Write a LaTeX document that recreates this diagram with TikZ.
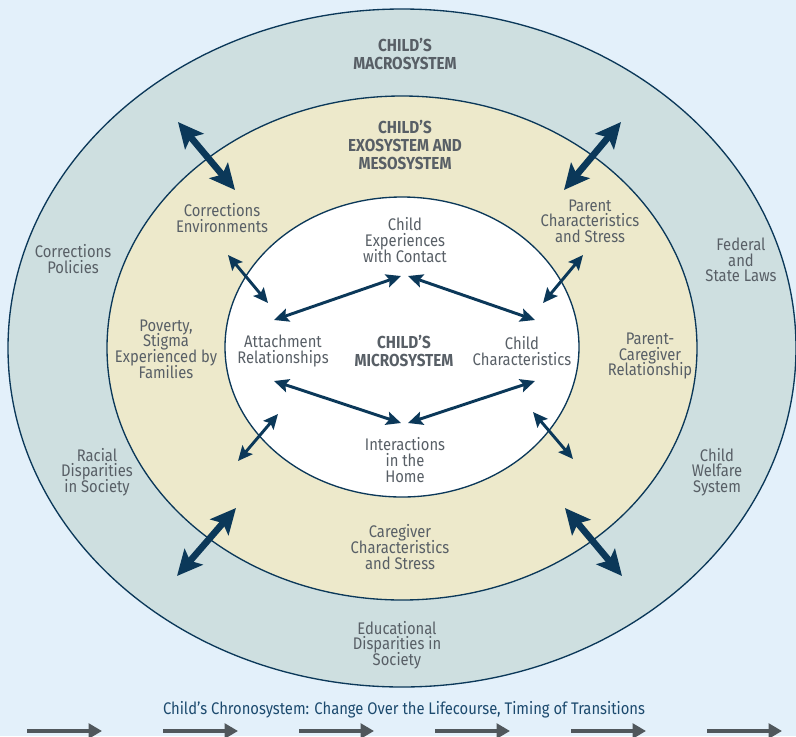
\documentclass[tikz,border=0pt]{standalone}
\usepackage{fontspec}
\setmainfont{Fira Sans}[FakeStretch=0.88]
\usetikzlibrary{arrows.meta}
\definecolor{bgblue}{HTML}{E3F0FA}
\definecolor{macrofill}{HTML}{CEDFE0}
\definecolor{exofill}{HTML}{EDE9CB}
\definecolor{navy}{HTML}{0B3859}
\definecolor{txtgray}{HTML}{585F66}
\definecolor{chronoblue}{HTML}{1C4A6E}
\definecolor{arrowgray}{HTML}{50575C}
\newcommand\mytightlines{\lineskiplimit=-8pt\relax\lineskip=0pt\relax}
\tikzset{
  ring/.style={draw=navy, line width=1pt},
  lbl/.style={text=txtgray, align=center, font=\fontsize{12.6}{11.7}\selectfont\mytightlines, inner sep=0pt},
  hdr/.style={text=txtgray, align=center, font=\fontsize{13}{13.4}\selectfont\bfseries\mytightlines, inner sep=0pt},
  bigarrow/.style={draw=navy, line width=5pt, {Stealth[length=19pt,width=18pt,inset=4pt]}-{Stealth[length=19pt,width=18pt,inset=4pt]}},
  midarrow/.style={draw=navy, line width=2.2pt, {Stealth[length=11pt,width=10pt,inset=2pt]}-{Stealth[length=11pt,width=10pt,inset=2pt]}},
  chrono/.style={draw=arrowgray, line width=2.6pt, -{Triangle[length=10pt,width=11pt]}},
}
\begin{document}
\begin{tikzpicture}[x=0.75pt,y=-0.75pt]
\useasboundingbox (0,0) rectangle (796,736);
\fill[bgblue] (0,0) rectangle (796,736);
% rings
\path[ring, fill=macrofill] (402,348) ellipse [x radius=394, y radius=339];
\path[ring, fill=exofill] (402,348) ellipse [x radius=295, y radius=252];
\path[ring, fill=white] (402,347) ellipse [x radius=177, y radius=150];

% headers
\node[hdr] (macro) at (405,54) {CHILD’S\\MACROSYSTEM};
\node[hdr] (exo) at (405,145) {CHILD’S\\EXOSYSTEM AND\\MESOSYSTEM};
\node[hdr] (micro) at (404,351) {CHILD’S\\MICROSYSTEM};

% macro labels
\node[lbl] (corrpol) at (73,259) {Corrections\\Policies};
\node[lbl] (racial) at (97,472) {Racial\\Disparities\\in Society};
\node[lbl] (federal) at (741,260) {Federal\\and\\State Laws};
\node[lbl] (welfare) at (717,472) {Child\\Welfare\\System};
\node[lbl] (edu) at (397,645) {Educational\\Disparities in\\Society};

% exo labels
\node[lbl] (correnv) at (222,218) {Corrections\\Environments};
\node[lbl] (poverty) at (166,349) {Poverty,\\Stigma\\Experienced by\\Families};
\node[lbl] (parent) at (590,221) {Parent\\Characteristics\\and Stress};
\node[lbl] (pcrel) at (650,356) {Parent-\\Caregiver\\Relationship};
\node[lbl] (caregiver) at (400,547) {Caregiver\\Characteristics\\and Stress};

% micro labels
\node[lbl] (exper) at (405,240) {Child\\Experiences\\with Contact};
\node[lbl] (attach) at (283,351) {Attachment\\Relationships};
\node[lbl] (childchar) at (522,351) {Child\\Characteristics};
\node[lbl] (home) at (405,460) {Interactions\\in the\\Home};

% big arrows between macro and exo
\coordinate (b1a) at (178,122); \coordinate (b1b) at (235,190);
\coordinate (b2a) at (621,122); \coordinate (b2b) at (564,190);
\coordinate (b3a) at (177,576); \coordinate (b3b) at (236,508);
\coordinate (b4a) at (622,576); \coordinate (b4b) at (565,508);
\draw[bigarrow] (b1a) -- (b1b);
\draw[bigarrow] (b2a) -- (b2b);
\draw[bigarrow] (b3a) -- (b3b);
\draw[bigarrow] (b4a) -- (b4b);

% arrows between exo and micro
\coordinate (m1a) at (228,255); \coordinate (m1b) at (268,303);
\coordinate (m2a) at (583,255); \coordinate (m2b) at (543,303);
\coordinate (m3a) at (238,461); \coordinate (m3b) at (278,414);
\coordinate (m4a) at (573,459); \coordinate (m4b) at (533,412);
\draw[midarrow] (m1a) -- (m1b);
\draw[midarrow] (m2a) -- (m2b);
\draw[midarrow] (m3a) -- (m3b);
\draw[midarrow] (m4a) -- (m4b);

% arrows inside micro
\coordinate (i1a) at (274,320); \coordinate (i1b) at (401,276);
\coordinate (i2a) at (408,276); \coordinate (i2b) at (535,320);
\coordinate (i3a) at (274,381); \coordinate (i3b) at (401,423);
\coordinate (i4a) at (535,381); \coordinate (i4b) at (408,423);
\draw[midarrow] (i1a) -- (i1b);
\draw[midarrow] (i2a) -- (i2b);
\draw[midarrow] (i3a) -- (i3b);
\draw[midarrow] (i4a) -- (i4b);

% chronosystem
\node[text=chronoblue, inner sep=0pt, font=\fontsize{12.6}{12}\selectfont] (chronotxt) at (404,710) {Child’s Chronosystem: Change Over the Lifecourse, Timing of Transitions};
\foreach \i/\xa in {1/27,2/163,3/299,4/435,5/571,6/707}{
  \coordinate (c\i a) at (\xa,731);
  \coordinate (c\i b) at (\xa+75,731);
  \draw[chrono] (c\i a) -- (c\i b);
}
\end{tikzpicture}
\end{document}
